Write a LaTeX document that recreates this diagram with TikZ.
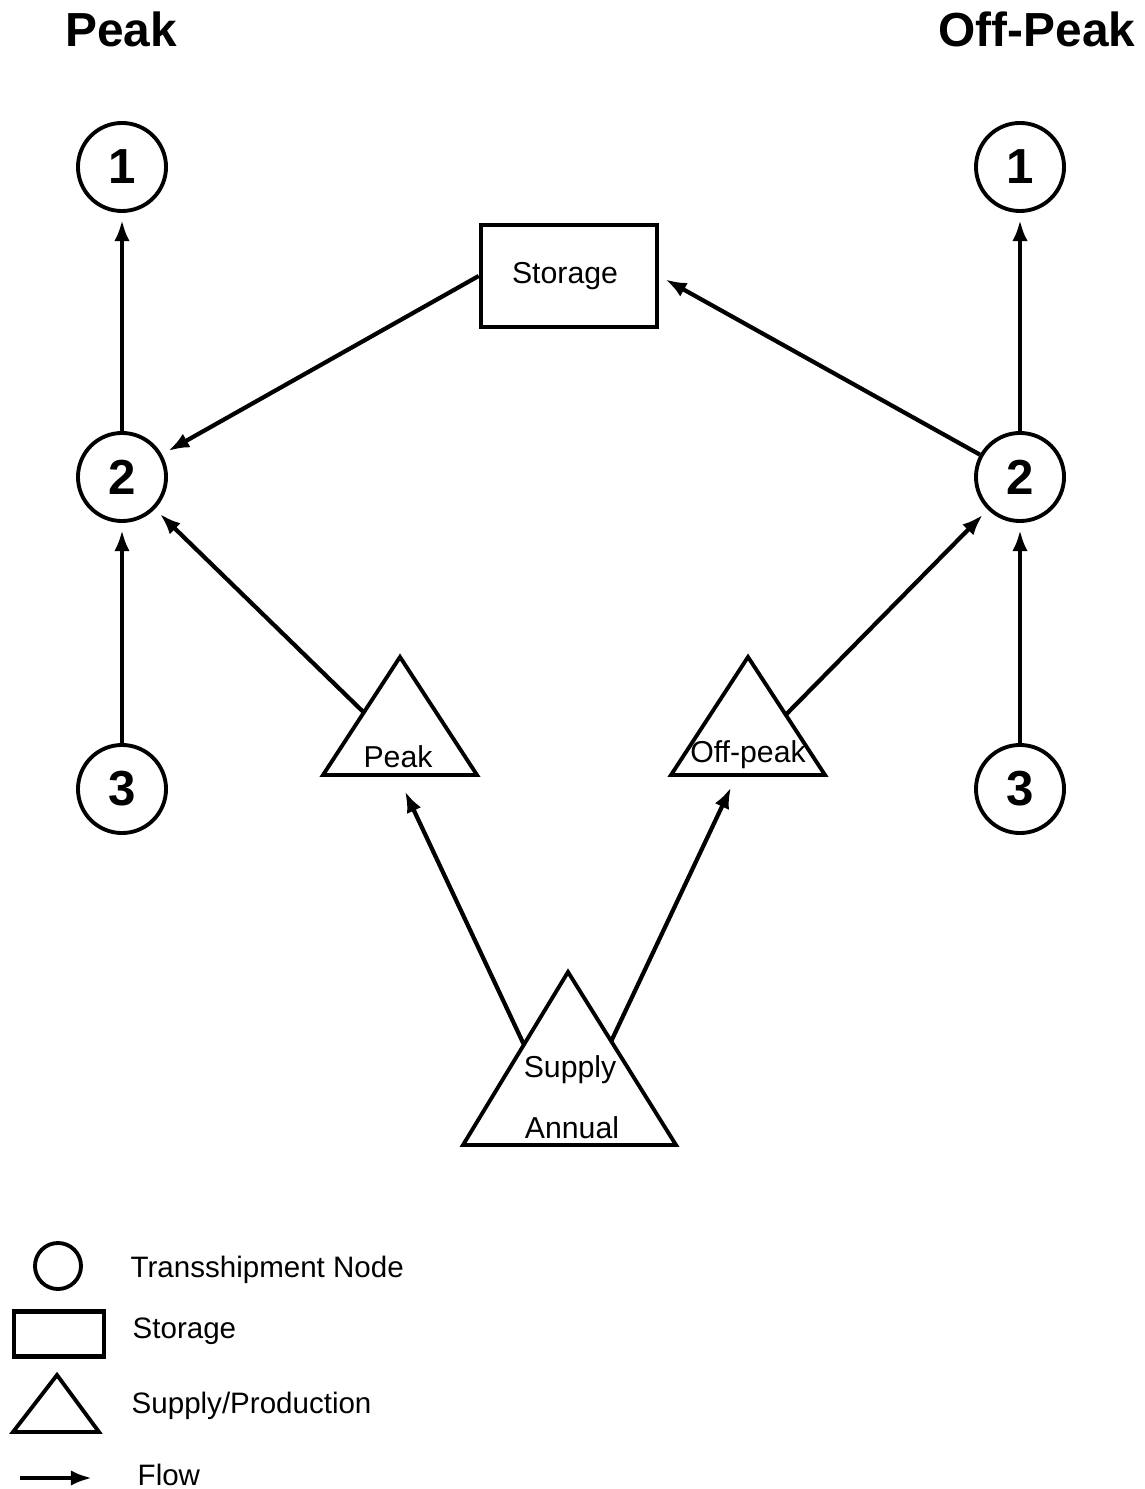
\documentclass[tikz,border=0pt]{standalone}
\usepackage{fontspec}
\setmainfont{Liberation Sans}
\usetikzlibrary{arrows.meta,calc}

\begin{document}
\begin{tikzpicture}[x=0.01cm, y=-0.01cm,
    transnode/.style={draw, circle, line width=1.1pt, minimum size=0.88cm, inner sep=0pt,
        font=\fontsize{14}{16}\selectfont\bfseries},
    storebox/.style={draw, rectangle, line width=1.3pt, minimum width=1.76cm, minimum height=1.02cm,
        font=\fontsize{8.6}{10}\selectfont},
    shapeline/.style={line width=1.1pt, line join=miter},
    flow/.style={line width=1.2pt, -{Latex[length=6pt,width=4.4pt]}, shorten >=2pt, shorten <=0pt},
    lbl/.style={font=\fontsize{8.6}{10}\selectfont, anchor=base, inner sep=0pt},
    title/.style={font=\fontsize{13.6}{16}\selectfont\bfseries, anchor=base, inner sep=0pt}]
    \useasboundingbox (0,0) rectangle (1144,1489);

    % Titoli
    \node[title] (tpeak) at (121,47) {Peak};
    \node[title] (toff) at (1037,47) {Off-Peak};

    % Nodi di transhipment
    \foreach \side/\x in {L/122,R/1020}
        \foreach \n/\y in {1/167,2/477,3/789}
            \node[transnode] (n\n\side) at (\x,\y) {\n};

    % Storage
    \node[storebox] (store) at (569,276) {\hspace*{-0.08cm}Storage};

    % Triangolo Peak
    \coordinate (pkA) at (400,657);
    \coordinate (pkL) at (323,775);
    \coordinate (pkR) at (477,775);
    \draw[shapeline] (pkA) -- (pkL) -- (pkR) -- cycle;
    \node[lbl] (pklab) at (398,767) {Peak};

    % Triangolo Off-peak
    \coordinate (opA) at (748,657);
    \coordinate (opL) at (671,775);
    \coordinate (opR) at (825,775);
    \draw[shapeline] (opA) -- (opL) -- (opR) -- cycle;
    \node[lbl] (oplab) at (748,762) {Off-peak};

    % Triangolo Supply
    \coordinate (spA) at (568,972);
    \coordinate (spL) at (463,1145);
    \coordinate (spR) at (676,1145);
    \draw[shapeline] (spA) -- (spL) -- (spR) -- cycle;
    \node[lbl] (splab) at (570,1077) {Supply};
    \node[lbl] (anlab) at (572,1138) {Annual};

    % Punti di attacco dei flussi
    \coordinate (pkOut) at ($(pkA)!0.47!(pkL)$);
    \coordinate (opOut) at ($(opA)!0.49!(opR)$);
    \coordinate (spOutL) at ($(spA)!0.42!(spL)$);
    \coordinate (spOutR) at ($(spA)!0.40!(spR)$);
    \coordinate (pkIn) at (402,785);
    \coordinate (opIn) at (734,781);

    % Flussi
    \draw[flow] (n2L) -- (n1L);
    \draw[flow] (n3L) -- (n2L);
    \draw[flow] (pkOut) -- (n2L);
    \draw[flow] (store.west) -- (n2L);
    \draw[flow] (n2R) -- (store.east);
    \draw[flow] (opOut) -- (n2R);
    \draw[flow] (n3R) -- (n2R);
    \draw[flow] (n2R) -- (n1R);
    \draw[flow] (spOutL) -- (pkIn);
    \draw[flow] (spOutR) -- (opIn);

    % Legenda
    \node[draw, circle, line width=1.1pt, minimum size=0.46cm, inner sep=0pt] (legnode) at (58,1266) {};
    \node[draw, rectangle, line width=1.3pt, minimum width=0.90cm, minimum height=0.45cm, inner sep=0pt] (legstore) at (59,1334) {};
    \coordinate (lgA) at (57,1375);
    \coordinate (lgL) at (13,1432);
    \coordinate (lgR) at (99,1432);
    \draw[shapeline] (lgA) -- (lgL) -- (lgR) -- cycle;
    \coordinate (lfA) at (20,1478);
    \coordinate (lfB) at (92,1478);
    \draw[flow, shorten >=0pt] (lfA) -- (lfB);

    \node[lbl, anchor=base west, font=\fontsize{8.4}{10}\selectfont] (lt1) at (130,1277) {Transshipment Node};
    \node[lbl, anchor=base west, font=\fontsize{8.4}{10}\selectfont] (lt2) at (132,1338) {Storage};
    \node[lbl, anchor=base west, font=\fontsize{8.4}{10}\selectfont] (lt3) at (131,1413) {Supply/Production};
    \node[lbl, anchor=base west, font=\fontsize{8.4}{10}\selectfont] (lt4) at (137,1485) {Flow};
\end{tikzpicture}
\end{document}
